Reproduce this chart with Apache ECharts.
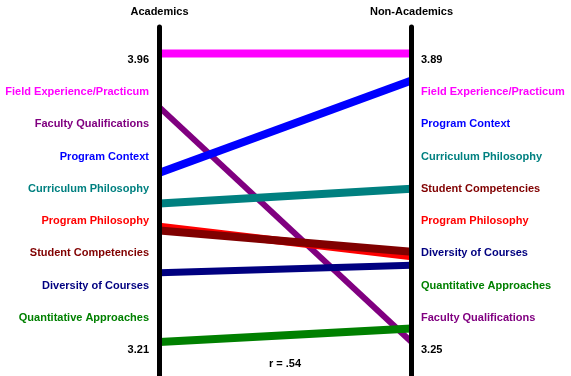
<!DOCTYPE html>
<html>
<head>
<meta charset="utf-8">
<script src="https://cdn.jsdelivr.net/npm/echarts@6/dist/echarts.min.js"></script>
<style>html,body{margin:0;padding:0;background:#fff}#c{width:571px;height:376px}</style>
</head>
<body>
<div id="c"></div>
<script>
// Groups (the two parallel axes)
var groups = ['Academics', 'Non-Academics'];
// Categories, in draw order
var categories = ['Faculty Qualifications', 'Field Experience/Practicum', 'Program Context', 'Curriculum Philosophy', 'Program Philosophy', 'Student Competencies', 'Diversity of Courses', 'Quantitative Approaches'];
var academics    = [3.82, 3.96, 3.65, 3.57, 3.51, 3.50, 3.39, 3.21];
var nonAcademics = [3.25, 3.89, 3.83, 3.59, 3.44, 3.45, 3.42, 3.28];
var colors = ['#800080', '#FF00FF', '#0000FF', '#008080', '#FF0000', '#800000', '#000080', '#008000'];
var widths = [6, 8, 8, 8, 8, 8, 7, 8];
// Ranked label lists (top to bottom)
var leftLabels  = ['3.96', 'Field Experience/Practicum', 'Faculty Qualifications', 'Program Context', 'Curriculum Philosophy', 'Program Philosophy', 'Student Competencies', 'Diversity of Courses', 'Quantitative Approaches', '3.21'];
var rightLabels = ['3.89', 'Field Experience/Practicum', 'Program Context', 'Curriculum Philosophy', 'Student Competencies', 'Program Philosophy', 'Diversity of Courses', 'Quantitative Approaches', 'Faculty Qualifications', '3.25'];
var corrText = 'r = .54';

var leftRange = [3.21, 3.96], rightRange = [3.25, 3.89];
// data range occupies y 53.5..342; axis bar spans y 27..376
var padTop = 26.5, padBottom = 34, dataSpan = 288.5;
function ext(r) {
  var k = (r[1] - r[0]) / dataSpan;
  return { min: r[0] - padBottom * k, max: r[1] + padTop * k };
}
var le = ext(leftRange), re = ext(rightRange);

function labelColor(list) {
  return function (v) {
    var i = categories.indexOf(v);
    return i < 0 ? '#000' : colors[i];
  };
}

var font = 'Liberation Sans, Arial, sans-serif';
var series = categories.map(function (c, i) {
  return {
    type: 'parallel',
    name: c,
    silent: true,
    z: 2,
    lineStyle: { color: colors[i], width: widths[i], opacity: 1, cap: 'butt' },
    data: [[academics[i], nonAcademics[i]]]
  };
});

var hiddenLabel = { show: false, formatter: function () { return ''; }, color: 'rgba(0,0,0,0)' };
function pAxis(dim, name, e) {
  return {
    dim: dim, name: name, min: e.min, max: e.max, z: 10,
    axisLine: { show: true, lineStyle: { color: '#000', width: 5 } },
    axisTick: { show: false },
    axisLabel: hiddenLabel,
    splitLine: { show: false },
    nameLocation: 'end',
    nameGap: 10,
    nameTextStyle: { color: '#000', fontWeight: 'bold', fontSize: 11, fontFamily: font }
  };
}

var option = {
  animation: false,
  backgroundColor: '#fff',
  parallel: { left: 159.5, right: 159.5, top: 27, bottom: 0 },
  parallelAxis: [pAxis(0, groups[0], le), pAxis(1, groups[1], re)],
  grid: { left: 159.5, right: 159.5, top: 60, bottom: 26, show: false },
  xAxis: { type: 'value', show: false },
  yAxis: [
    { type: 'category', position: 'left', inverse: true, boundaryGap: false, data: leftLabels,
      axisLine: { show: false }, axisTick: { show: false }, splitLine: { show: false },
      axisLabel: { margin: 10.5, fontSize: 11, fontWeight: 'bold', fontFamily: font, color: labelColor(leftLabels), interval: 0 } },
    { type: 'category', position: 'right', inverse: true, boundaryGap: false, data: rightLabels,
      axisLine: { show: false }, axisTick: { show: false }, splitLine: { show: false },
      axisLabel: { margin: 9.5, fontSize: 11, fontWeight: 'bold', fontFamily: font, color: labelColor(rightLabels), interval: 0 } }
  ],
  title: { text: corrText, left: 264, top: 353,
    textStyle: { fontSize: 11, fontWeight: 'bold', color: '#000', fontFamily: font } },
  series: series
};
var chart = echarts.init(document.getElementById('c'), null, { renderer: 'canvas' });
chart.setOption(option);
</script>
</body>
</html>
